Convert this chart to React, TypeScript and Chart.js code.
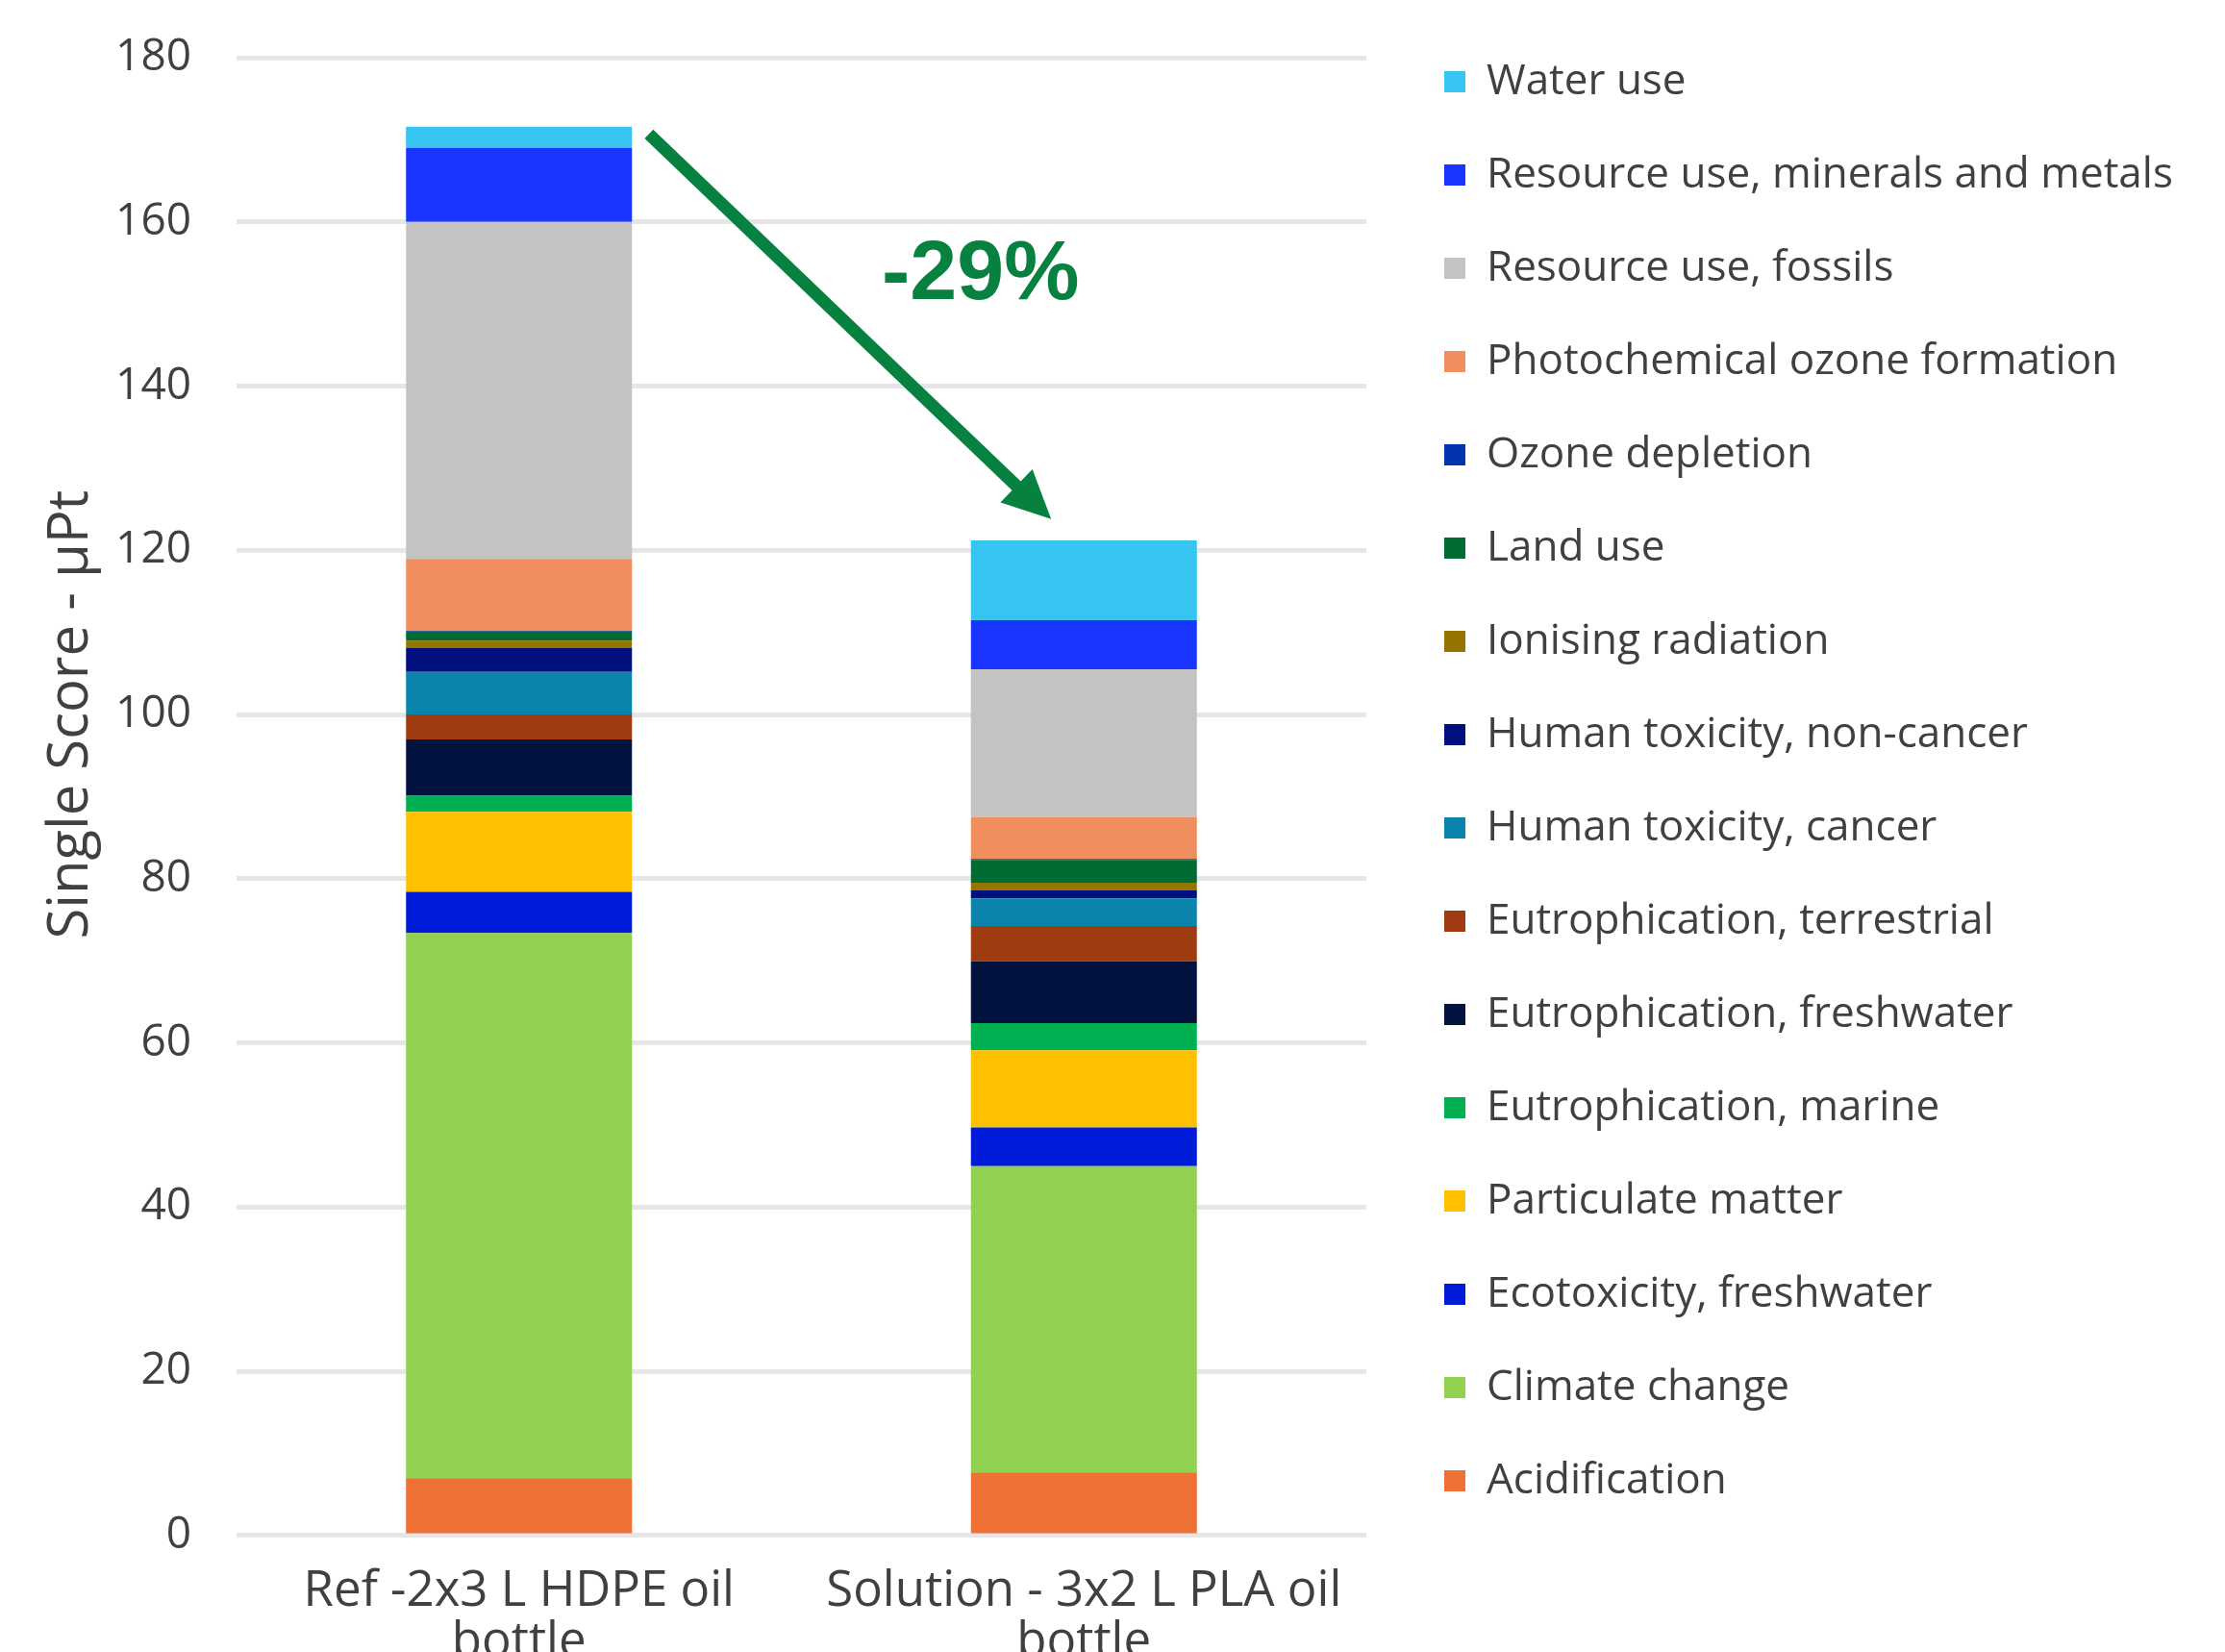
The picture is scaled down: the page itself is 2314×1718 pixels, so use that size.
import React, { useEffect, useRef } from "react";
import { Chart, registerables } from "chart.js";

Chart.register(...registerables);

// ---------- data ----------
const CATEGORIES: string[][] = [
  ["Ref -2x3 L HDPE oil", "bottle"],
  ["Solution - 3x2 L PLA oil", "bottle"],
];

// stacking order, bottom -> top
const SERIES_NAMES: string[] = [
  "Acidification",
  "Climate change",
  "Ecotoxicity, freshwater",
  "Particulate matter",
  "Eutrophication, marine",
  "Eutrophication, freshwater",
  "Eutrophication, terrestrial",
  "Human toxicity, cancer",
  "Human toxicity, non-cancer",
  "Ionising radiation",
  "Land use",
  "Ozone depletion",
  "Photochemical ozone formation",
  "Resource use, fossils",
  "Resource use, minerals and metals",
  "Water use",
];

const REF_VALUES: number[] = [7.0, 66.4, 5.0, 9.75, 1.95, 6.85, 3.05, 5.2, 2.9, 0.9, 1.1, 0.1, 8.75, 41.05, 9.0, 2.6];
const SOLUTION_VALUES: number[] = [7.7, 37.3, 4.7, 9.4, 3.3, 7.55, 4.3, 3.35, 1.0, 0.9, 2.8, 0.1, 5.1, 18.0, 6.0, 9.7];

const SERIES_COLORS: string[] = [
  "#ED7034",
  "#92D050",
  "#001CD9",
  "#FFC000",
  "#00B050",
  "#03133F",
  "#9E3B10",
  "#0A84AD",
  "#00107F",
  "#967400",
  "#006B33",
  "#0533B0",
  "#F08E5E",
  "#C4C3C1",
  "#1A35FF",
  "#35C5F0",
];

const Y_MIN = 0;
const Y_MAX = 180;
const Y_STEP = 20;
const Y_TITLE = "Single Score - µPt";

// annotation (in data space: x = category index, y = value)
const ARROW_FROM: [number, number] = [0.23, 170.7];
const ARROW_TO: [number, number] = [0.942, 123.8];
const CHANGE_LABEL = "-29%";
const CHANGE_LABEL_POS: [number, number] = [0.817, 153.4];
const Y_TITLE_CENTER_VALUE = 100;

// ---------- style ----------
const W = 2314;
const H = 1767;
const FONT = "'Open Sans', 'Liberation Sans', sans-serif";
const TEXT_COLOR = "#404040";
const GREEN = "#078140";
const TICK_FONT = 46;
const LEGEND_FONT = 44;
const XLABEL_FONT = 51;
const YTITLE_FONT = 58;
const LEG_PAD = 53;
const LEG_BOX = 22;

export default function App() {
  const ref = useRef<HTMLCanvasElement | null>(null);

  useEffect(() => {
    const canvas = ref.current;
    if (!canvas) return;

    const m = document.createElement("canvas").getContext("2d")!;
    m.font = `${LEGEND_FONT}px ${FONT}`;
    const legendTextW = Math.max(...SERIES_NAMES.map((n) => m.measureText(n).width));
    m.font = `${TICK_FONT}px ${FONT}`;
    const tickW = m.measureText(String(Y_MAX)).width;

    const plotLeft = 246;
    const plotRight = 1421;
    const legendBoxX = 1502;
    const tickPad = 47;
    const padLeft = Math.max(0, plotLeft - tickW - 2 * tickPad);
    const legendLeft = legendBoxX - LEG_PAD;
    const rightGap = legendLeft - plotRight;
    const legendWidth = LEG_PAD + LEG_BOX + LEGEND_FONT / 2 + legendTextW + 10;
    const padRight = W - legendLeft - legendWidth;

    const annot = {
      id: "annot",
      afterDraw(chart: any) {
        const { ctx, scales, chartArea } = chart;
        const x = scales.x;
        const y = scales.y;
        ctx.save();
        // y axis title
        ctx.save();
        ctx.translate(chartArea.left - 172, y.getPixelForValue(Y_TITLE_CENTER_VALUE));
        ctx.rotate(-Math.PI / 2);
        ctx.fillStyle = TEXT_COLOR;
        ctx.font = `${YTITLE_FONT}px ${FONT}`;
        ctx.textAlign = "center";
        ctx.textBaseline = "middle";
        ctx.fillText(Y_TITLE, 0, 0);
        ctx.restore();

        // arrow
        const x1 = x.getPixelForValue(ARROW_FROM[0]);
        const y1 = y.getPixelForValue(ARROW_FROM[1]);
        const x2 = x.getPixelForValue(ARROW_TO[0]);
        const y2 = y.getPixelForValue(ARROW_TO[1]);
        const ang = Math.atan2(y2 - y1, x2 - x1);
        const headLen = 50;
        const headHalf = 24;
        const bx = x2 - headLen * Math.cos(ang);
        const by = y2 - headLen * Math.sin(ang);
        ctx.strokeStyle = GREEN;
        ctx.fillStyle = GREEN;
        ctx.lineWidth = 13;
        ctx.beginPath();
        ctx.moveTo(x1, y1);
        ctx.lineTo(bx + 4 * Math.cos(ang), by + 4 * Math.sin(ang));
        ctx.stroke();
        ctx.beginPath();
        ctx.moveTo(x2, y2);
        ctx.lineTo(bx + headHalf * Math.sin(ang), by - headHalf * Math.cos(ang));
        ctx.lineTo(bx - headHalf * Math.sin(ang), by + headHalf * Math.cos(ang));
        ctx.closePath();
        ctx.fill();

        // label
        ctx.font = `bold 88px 'Liberation Sans', Arial, sans-serif`;
        ctx.textAlign = "center";
        ctx.textBaseline = "middle";
        ctx.fillText(
          CHANGE_LABEL,
          x.getPixelForValue(CHANGE_LABEL_POS[0]),
          y.getPixelForValue(CHANGE_LABEL_POS[1])
        );
        ctx.restore();
      },
    };

    const chart = new Chart(canvas, {
      type: "bar",
      data: {
        labels: CATEGORIES as any,
        datasets: SERIES_NAMES.map((name, i) => ({
          label: name,
          data: [REF_VALUES[i], SOLUTION_VALUES[i]],
          backgroundColor: SERIES_COLORS[i],
          borderWidth: 0,
          categoryPercentage: 1,
          barPercentage: 0.4,
          yAxisID: "y",
        })),
      },
      options: {
        animation: false,
        responsive: false,
        maintainAspectRatio: false,
        devicePixelRatio: 1,
        layout: { padding: { top: 10, left: padLeft, right: padRight, bottom: 0 } },
        plugins: {
          tooltip: { enabled: false },
          title: {
            display: true,
            text: "",
            fullSize: false,
            font: { size: 10, lineHeight: 1 },
            padding: { top: 40, bottom: 0 },
          },
          legend: {
            position: "right",
            align: "start",
            reverse: true,
            maxWidth: 1000,
            labels: {
              boxWidth: LEG_BOX,
              boxHeight: LEG_BOX,
              padding: LEG_PAD,
              color: TEXT_COLOR,
              font: { size: LEGEND_FONT, family: FONT },
            },
          },
        },
        scales: {
          x: {
            stacked: true,
            grid: { display: false, drawTicks: false },
            border: { display: false },
            ticks: {
              color: TEXT_COLOR,
              padding: 32,
              maxRotation: 0,
              autoSkip: false,
              font: { size: XLABEL_FONT, family: FONT, lineHeight: 1.04 },
            },
            afterFit: (s: any) => {
              s.paddingLeft = 0;
              s.paddingRight = 0;
            },
          },
          y: {
            stacked: true,
            min: Y_MIN,
            max: Y_MAX,
            grid: { color: "#E6E6E8", lineWidth: 5, drawTicks: false },
            border: { display: false },
            ticks: {
              stepSize: Y_STEP,
              color: TEXT_COLOR,
              padding: tickPad,
              font: { size: TICK_FONT, family: FONT },
            },
            afterFit: (s: any) => {
              s.paddingTop = 0;
              s.paddingBottom = 0;
            },
          },
          yRight: {
            type: "linear",
            position: "right",
            display: true,
            grid: { display: false, drawTicks: false },
            border: { display: false },
            ticks: { display: false },
            afterFit: (s: any) => {
              s.width = rightGap;
              s.paddingTop = 0;
              s.paddingBottom = 0;
            },
          },
        },
      },
      plugins: [annot],
    });
    return () => chart.destroy();
  }, []);

  return (
    <div style={{ position: "fixed", left: 0, top: 0, width: W, height: 1718, overflow: "hidden", background: "#fff" }}>
      <canvas ref={ref} width={W} height={H} style={{ width: W, height: H, display: "block" }} />
    </div>
  );
}
